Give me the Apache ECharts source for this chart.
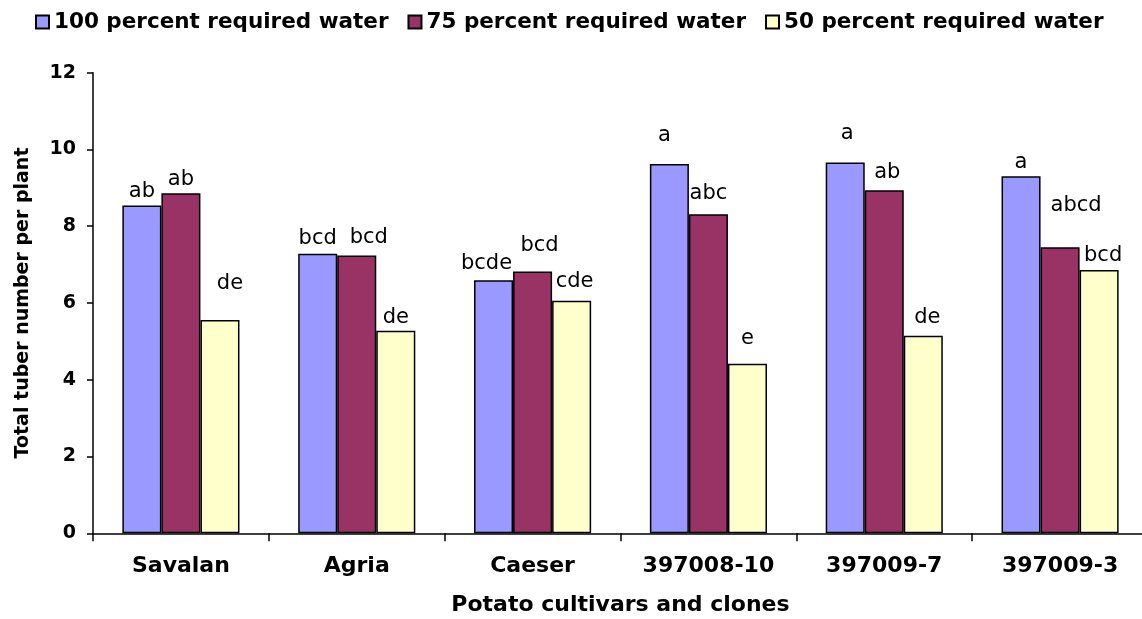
<!DOCTYPE html>
<html>
<head>
<meta charset="utf-8">
<script src="https://cdn.jsdelivr.net/npm/echarts@6/dist/echarts.min.js"></script>
<style>
	html, body { margin: 0; padding: 0; background: #fff; }
	#main { width: 1142px; height: 619px; }
</style>
</head>
<body>
<div id="main"></div>
<script>
	var categories = ['Savalan', 'Agria', 'Caeser', '397008-10', '397009-7', '397009-3'];
	var water100 = [8.54, 7.28, 6.59, 9.62, 9.66, 9.30]; //100% required water
	var water75 = [8.86, 7.24, 6.82, 8.31, 8.94, 7.45]; //75%
	var water50 = [5.56, 5.28, 6.06, 4.42, 5.15, 6.86]; //50%
	var letters100 = ['ab', 'bcd', 'bcde', 'a', 'a', 'a'];
	var letters75 = ['ab', 'bcd', 'bcd', 'abc', 'ab', 'abcd'];
	var letters50 = ['de', 'de', 'cde', 'e', 'de', 'bcd'];

	//letter positions are nudged by hand in the original
	var nudge100 = [[0, 0], [0, -2], [-7, -3], [-5, -15], [2, -15], [0, 0]];
	var nudge75 = [[0, 0], [12, -4], [7, -12], [0, -7], [3, -4], [16, -28]];
	var nudge50 = [[10, -23], [0, 0], [3, -6], [0, -12], [4, -5], [4, -1]];

	var font = 'DejaVu Sans';

	function makeData(values, letters, nudge) {
		var out = [];
		for(var i = 0; i < values.length; i++) {
			out.push({
				value: values[i],
				label: { formatter: letters[i], offset: nudge[i] }
			});
		}
		return out;
	}

	function makeSeries(name, color, values, letters, nudge) {
		return {
			name: name,
			type: 'bar',
			barGap: '0%',
			barCategoryGap: '33.4%',
			itemStyle: { color: color, borderColor: '#000', borderWidth: 1.5 },
			label: {
				show: true,
				position: 'top',
				distance: 3,
				color: '#000',
				fontFamily: font,
				fontSize: 21
			},
			data: makeData(values, letters, nudge)
		};
	}

	var chart = echarts.init(document.getElementById('main'));
	chart.setOption({
		backgroundColor: '#fff',
		animation: false,
		legend: {
			left: 30,
			top: 6,
			icon: 'rect',
			itemWidth: 13,
			itemHeight: 13,
			itemGap: 19,
			textStyle: { fontFamily: font, fontWeight: 'bold', fontSize: 21.5, color: '#000' }
		},
		grid: { left: 93, right: -6, top: 72.7, bottom: 85.7, containLabel: false, outerBoundsMode: 'none' },
		xAxis: {
			type: 'category',
			data: categories,
			name: 'Potato cultivars and clones',
			nameLocation: 'middle',
			nameGap: 61,
			nameTextStyle: { fontFamily: font, fontWeight: 'bold', fontSize: 22, color: '#000' },
			axisLine: { lineStyle: { color: '#000', width: 1.5 } },
			axisTick: { show: true, length: 8, lineStyle: { color: '#000', width: 1.5 } },
			axisLabel: { margin: 22, fontFamily: font, fontWeight: 'bold', fontSize: 22, color: '#000' }
		},
		yAxis: {
			type: 'value',
			min: 0,
			max: 12,
			interval: 2,
			name: 'Total tuber number per plant',
			nameLocation: 'middle',
			nameRotate: 90,
			nameGap: 60,
			nameTextStyle: { fontFamily: font, fontWeight: 'bold', fontSize: 19, color: '#000' },
			splitLine: { show: false },
			axisLine: { show: true, lineStyle: { color: '#000', width: 1.5 } },
			axisTick: { show: true, length: 6, lineStyle: { color: '#000', width: 1.5 } },
			axisLabel: { margin: 17, fontFamily: font, fontWeight: 'bold', fontSize: 19, color: '#000' }
		},
		series: [
			makeSeries('100 percent required water', '#9999FF', water100, letters100, nudge100),
			makeSeries('75 percent required water', '#993366', water75, letters75, nudge75),
			makeSeries('50 percent required water', '#FFFFCC', water50, letters50, nudge50)
		]
	});
</script>
</body>
</html>
